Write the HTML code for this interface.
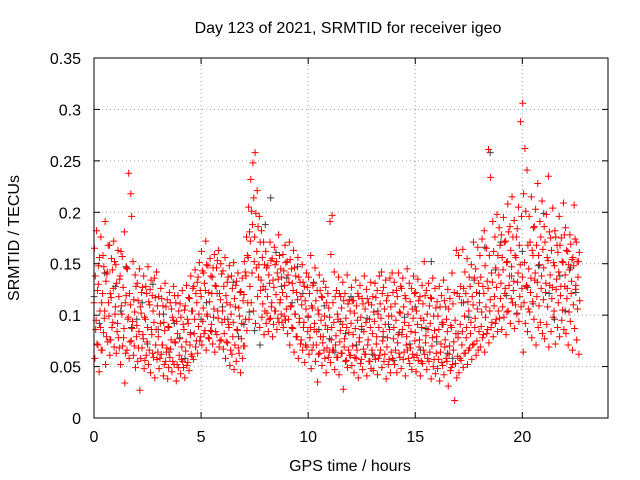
<!DOCTYPE html>
<html><head><meta charset="utf-8"><style>
html,body{margin:0;padding:0;background:#fff;}
svg{display:block;font-family:"Liberation Sans",sans-serif;}
</style></head><body>
<svg id="chart" width="640" height="480">
<rect width="640" height="480" fill="#fff"/>
<g id="grid"></g>
<g id="gray"></g>
<g id="red"></g>
<rect x="94" y="58" width="514" height="360" fill="none" stroke="#000" stroke-width="1"/>
<g id="ticks"></g>
<text x="348" y="33" text-anchor="middle" font-size="16">Day 123 of 2021, SRMTID for receiver igeo</text>
<text x="350" y="471" text-anchor="middle" font-size="16">GPS time / hours</text>
<text transform="translate(19,238) rotate(-90)" text-anchor="middle" font-size="16">SRMTID / TECUs</text>
</svg>
<script>
const xTicks=[0,5,10,15,20];
const yTicks=[0,0.05,0.1,0.15,0.2,0.25,0.3,0.35];
const yTickLabels=["0","0.05","0.1","0.15","0.2","0.25","0.3","0.35"];
const stepRed=0.1;
const redMid=[112,95,130,88,121,104,140,99,117,126,108,92,135,101,87,119,98,110,94,103,90,84,102,77,96,88,110,81,93,86,79,92,71,85,68,88,76,95,73,82,77,69,86,74,92,81,104,96,112,101,118,107,124,99,113,121,106,128,97,115,104,96,112,88,101,93,108,85,99,92,120,138,156,172,188,176,162,149,134,128,125,118,131,112,127,120,135,115,122,129,118,132,109,124,101,115,97,110,93,106,99,88,107,92,84,101,95,79,90,86,98,88,93,80,96,85,91,77,88,83,92,81,87,95,78,89,84,93,76,88,82,94,79,88,97,84,91,78,86,99,88,95,81,102,86,93,79,90,84,97,83,91,76,88,95,80,86,92,78,85,79,86,72,91,76,84,70,88,74,82,78,91,84,99,88,104,93,110,97,106,112,103,121,108,126,115,132,118,127,139,131,144,126,152,138,147,133,156,141,149,137,151,129,145,136,158,141,132,149,138,146,131,153,139,127,148,135,142,128,151,139,126,144,133,148,129,137];
const redUpper=[165,182,148,176,158,191,142,168,155,172,149,163,138,157,181,146,238,218,152,139,131,145,122,138,128,147,125,119,136,142,118,126,109,131,115,122,106,128,112,119,111,124,105,129,117,138,126,144,132,151,162,141,172,148,155,137,159,146,163,150,143,156,132,148,138,151,129,141,122,136,152,176,205,232,248,258,221,196,182,171,162,148,171,155,166,152,178,145,159,168,152,171,145,163,138,156,132,149,128,141,137,158,129,146,124,139,118,133,127,121,191,197,142,124,137,118,132,121,139,115,127,114,134,121,129,116,138,125,112,132,118,131,124,138,142,127,134,119,136,141,132,124,141,128,136,119,145,131,126,138,122,135,118,129,152,124,131,117,136,126,113,128,119,134,108,125,116,141,122,163,158,128,164,142,155,137,149,171,145,166,158,174,182,165,261,234,191,176,198,185,178,195,172,208,186,215,192,176,205,288,306,262,241,196,215,185,203,228,191,211,186,198,235,175,204,182,168,196,175,209,185,162,178,154,207,171,152];
const redUpperMid=[138,124,156,112,147,133,168,121,144,152,131,118,162,127,112,145,121,196,115,128,114,108,127,98,121,113,134,104,117,109,101,116,93,108,89,112,98,119,94,104,98,91,109,96,116,104,128,121,137,124,143,131,149,122,138,146,129,153,121,140,128,119,137,110,126,116,133,107,123,114,142,158,181,201,214,199,186,171,156,149,146,139,153,134,149,141,158,137,143,151,139,154,131,146,122,137,118,132,114,127,121,109,131,114,105,124,117,99,112,107,159,112,118,101,121,107,114,97,111,104,114,102,109,118,98,111,106,116,96,110,103,117,101,111,121,106,114,99,108,122,111,118,103,126,108,116,101,113,106,121,104,114,97,111,119,101,109,116,99,107,99,108,93,114,96,106,90,111,95,121,118,112,126,121,113,128,118,136,122,131,137,128,148,133,158,141,162,146,158,168,156,171,151,181,163,176,158,184,168,196,218,201,168,171,163,186,168,158,176,164,171,156,181,163,151,176,161,168,152,178,163,149,169,156,174,152,161];
const redLowerMid=[86,71,104,66,97,79,112,76,93,101,84,68,109,78,63,96,74,87,70,79,68,58,81,56,74,66,86,59,71,64,58,71,52,64,49,67,55,74,52,61,57,49,65,54,71,60,82,75,89,79,94,85,101,77,91,98,84,104,75,93,82,74,91,66,79,71,86,63,77,70,96,112,128,141,152,146,137,124,111,104,102,96,108,91,104,97,112,93,99,106,96,108,87,101,79,93,76,88,71,84,78,66,86,71,62,79,73,58,68,64,76,66,71,59,74,63,69,56,66,61,70,59,66,74,57,67,62,71,55,66,61,72,58,66,75,62,69,57,64,77,66,73,59,81,64,71,58,68,62,75,61,69,55,66,73,58,64,70,57,63,57,64,51,69,55,62,49,66,53,60,58,71,63,78,66,82,71,88,75,84,89,81,98,86,104,93,109,96,104,116,108,121,103,129,116,124,110,132,118,126,112,128,106,122,113,134,118,109,126,115,122,108,129,116,104,125,112,119,105,128,116,103,121,110,125,106,114];
const redLower=[58,72,45,66,83,52,74,61,88,69,63,78,52,70,34,66,58,75,61,49,55,27,68,48,61,52,44,63,39,57,48,62,41,55,38,59,45,52,36,49,43,55,39,51,46,62,57,69,63,75,71,82,66,78,85,72,64,81,69,76,67,58,73,51,62,47,55,68,44,58,70,85,96,112,104,92,118,88,98,81,92,84,97,79,104,86,93,101,88,95,82,71,88,64,79,58,72,66,54,69,62,48,71,55,35,63,51,66,44,59,54,66,47,59,42,63,28,55,49,61,51,44,58,39,53,47,62,41,55,48,46,57,42,61,49,55,38,52,44,58,52,44,63,48,57,41,66,53,47,59,45,56,41,53,62,47,55,38,50,43,48,36,54,42,58,31,46,52,17,39,44,56,49,63,52,68,57,72,61,66,69,78,64,82,73,88,79,92,84,97,86,98,81,104,92,112,87,101,94,108,64,92,84,103,78,96,71,88,93,82,77,91,69,84,98,72,88,79,95,86,82,71,94,66,87,76,62];
const stepGray=0.25;
const grayVals=[118,92,141,76,128,104,147,88,96,112,72,130,86,101,64,92,78,58,83,69,96,112,84,121,108,96,132,79,91,103,85,71,188,214,161,128,136,112,147,121,98,132,86,109,77,64,94,82,118,71,86,97,62,104,79,91,56,83,98,72,108,66,87,152,74,91,63,58,82,112,98,134,121,166,258,144,171,119,138,102,162,127,111,148,199,121,96,138,104,146,122];

const X0=94,X1=608,Y0=418,Y1=58,XMAX=24,YMAX=0.35;
const xs=v=>X0+v/XMAX*(X1-X0);
const ys=v=>Y0-v/YMAX*(Y0-Y1);
const NS="http://www.w3.org/2000/svg";
function mk(tag,attrs,parent){const e=document.createElementNS(NS,tag);for(const k in attrs)e.setAttribute(k,attrs[k]);parent.appendChild(e);return e;}
const grid=document.getElementById('grid'),ticks=document.getElementById('ticks');
xTicks.forEach(t=>{const x=xs(t);
 if(t>0){const g=mk('line',{x1:x,x2:x,y1:Y0,y2:Y1,stroke:'#a0a0a0','stroke-dasharray':'1,3'},grid);
 
 }
 const l=mk('line',{x1:x,x2:x,y1:Y0,y2:Y0-6,stroke:'#000'},ticks);
 
 
 const l2=mk('line',{x1:x,x2:x,y1:Y1,y2:Y1+6,stroke:'#000'},ticks);
 
 
 const tx=mk('text',{x:x,y:Y0+24,'text-anchor':'middle','font-size':'16'},ticks);tx.textContent=t;
 
 
});
yTicks.forEach((t,i)=>{const y=ys(t);
 if(t>0&&t<YMAX){const g=mk('line',{x1:X0,x2:X1,y1:y,y2:y,stroke:'#a0a0a0','stroke-dasharray':'1,3'},grid);
 
 }
 const l=mk('line',{x1:X0,x2:X0+6,y1:y,y2:y,stroke:'#000'},ticks);
 
 
 const l2=mk('line',{x1:X1,x2:X1-6,y1:y,y2:y,stroke:'#000'},ticks);
 
 
 const tx=mk('text',{x:X0-13,y:y+6,'text-anchor':'end','font-size':'16'},ticks);tx.textContent=yTickLabels[i];
 
 
});
function plus(parent,t,v,color,name){const x=xs(t),y=ys(v/1000);
 const p=mk('path',{d:`M${x-3.5},${y}h7M${x},${y-3.5}v7`,stroke:color,'stroke-width':1,fill:'none'},parent);
 
 }
const gg=document.getElementById('gray'),rg=document.getElementById('red');
grayVals.forEach((v,i)=>{const t=i*stepGray;if(t<=22.6)plus(gg,t,v,'#404040','gray-point');});
[redMid,redUpper,redLower,redUpperMid,redLowerMid].forEach((arr,k)=>arr.forEach((v,i)=>plus(rg,i*stepRed+k*0.02,v,'#ff0000','red-point')));
</script>
</body></html>
